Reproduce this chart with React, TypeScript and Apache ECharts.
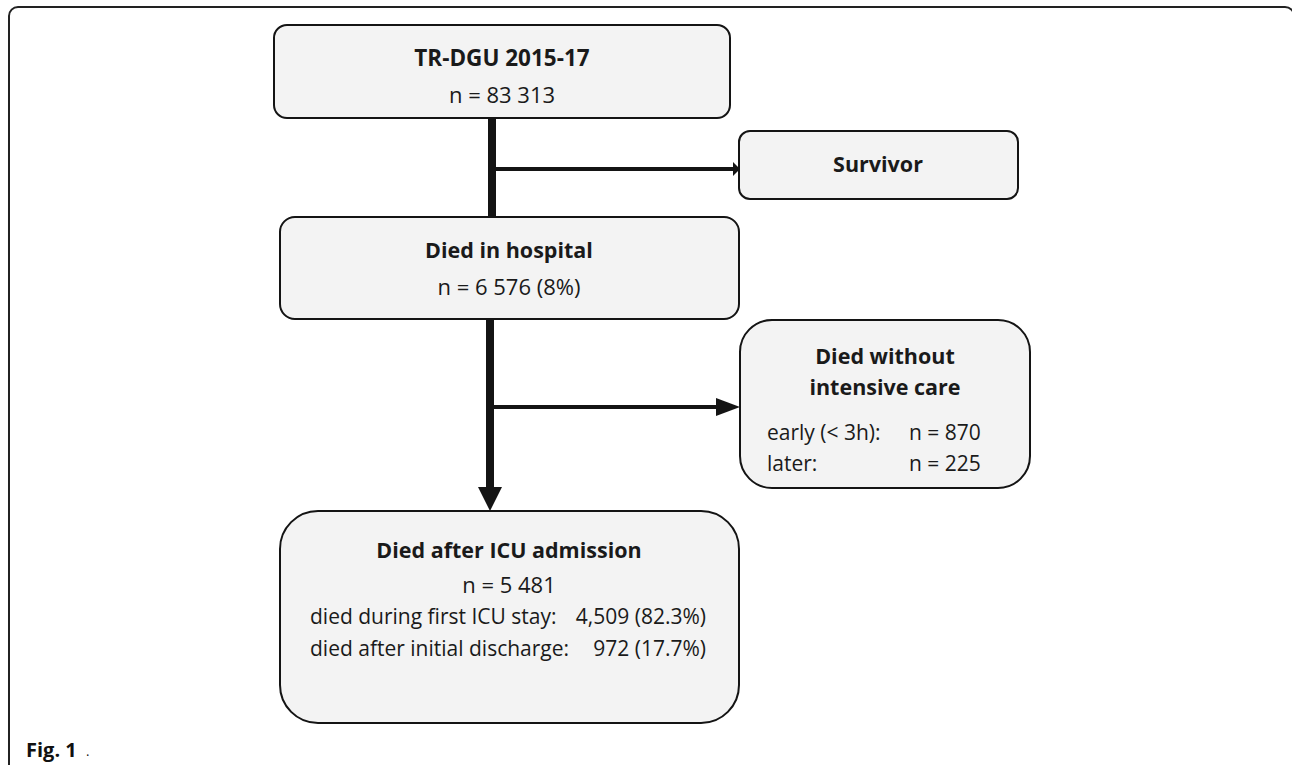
import React, { useEffect, useRef } from "react";
import * as echarts from "echarts";

// ---- content ----
const cohortTitle = "TR-DGU 2015-17";
const cohortCount = "n = 83 313";
const survivorTitle = "Survivor";
const diedTitle = "Died in hospital";
const diedCount = "n = 6 576 (8%)";
const noIcuTitle = ["Died without", "intensive care"];
const noIcuLabels = ["early (< 3h):", "later:"];
const noIcuCounts = ["n = 870", "n = 225"];
const icuTitle = "Died after ICU admission";
const icuCount = "n = 5 481";
const icuLabels = ["died during first ICU stay:", "died after initial discharge:"];
const icuCounts = ["4,509 (82.3%)", "972 (17.7%)"];
const figLabel = "Fig. 1";

const FONT = "'Open Sans', 'Noto Sans', sans-serif";
const INK = "#141414";
const FILL = "#f3f3f3";

function box(x: number, y: number, w: number, h: number, r: number) {
  return {
    type: "rect",
    shape: { x, y, width: w, height: h, r },
    style: { fill: FILL, stroke: INK, lineWidth: 2 },
    z: 10,
  };
}
function txt(text: string, x: number, y: number, opts: any = {}) {
  return {
    type: "text",
    z: 20,
    style: {
      text,
      x,
      y,
      fill: opts.fill || "#1a1a1a",
      font: `${opts.bold ? "bold " : ""}${opts.size || 21}px ${FONT}`,
      textAlign: opts.align || "center",
      textVerticalAlign: "middle",
    },
  };
}
function line(x1: number, y1: number, x2: number, y2: number, w: number) {
  return {
    type: "line",
    z: 5,
    shape: { x1, y1, x2, y2 },
    style: { stroke: INK, lineWidth: w },
  };
}
function poly(points: number[][]) {
  return { type: "polygon", z: 6, shape: { points }, style: { fill: INK } };
}

export default function App() {
  const ref = useRef<HTMLDivElement>(null);
  useEffect(() => {
    if (!ref.current) return;
    const chart = echarts.init(ref.current, null, { renderer: "svg" });
    const T = 21.5; // title size
    const N = 22; // count line size
    const R = 21; // row size
    const elements: any[] = [
      // outer frame
      {
        type: "rect",
        z: 1,
        shape: { x: 9, y: 7, width: 1285, height: 820, r: 9 },
        style: { fill: "#ffffff", stroke: "#222", lineWidth: 2 },
      },
      // main vertical trunk
      line(492, 118, 492, 217, 8),
      line(490, 319, 490, 490, 8),
      poly([[478, 487], [502, 487], [490, 511]]),
      // branch to survivor
      line(492, 169, 734, 169, 4),
      poly([[733, 162], [740, 169], [733, 176]]),
      // branch to died without ICU
      line(490, 407, 718, 407, 4),
      poly([[716, 398], [740, 407], [716, 416]]),
      // boxes
      box(274, 25, 456, 93, 13),
      box(739, 131, 279, 68, 11),
      box(280, 217, 459, 102, 15),
      box(740, 320, 290, 168, 32),
      box(280, 511, 459, 212, 38),
      // texts
      txt(cohortTitle, 502, 57, { bold: true, size: 22.5 }),
      txt(cohortCount, 502, 94, { size: N }),
      txt(survivorTitle, 878, 163, { bold: true, size: T }),
      txt(diedTitle, 509, 249, { bold: true, size: T }),
      txt(diedCount, 509, 286, { size: N }),
      txt(noIcuTitle[0], 885, 355, { bold: true, size: T }),
      txt(noIcuTitle[1], 885, 386, { bold: true, size: T }),
      txt(noIcuLabels[0], 767, 432, { align: "left", size: R }),
      txt(noIcuLabels[1], 767, 463, { align: "left", size: R }),
      txt(noIcuCounts[0], 909, 432, { align: "left", size: R }),
      txt(noIcuCounts[1], 909, 463, { align: "left", size: R }),
      txt(icuTitle, 509, 549, { bold: true, size: T }),
      txt(icuCount, 509, 584, { size: N }),
      txt(icuLabels[0], 310, 616, { align: "left", size: R }),
      txt(icuLabels[1], 310, 648, { align: "left", size: R }),
      txt(icuCounts[0], 706, 616, { align: "right", size: R }),
      txt(icuCounts[1], 706, 648, { align: "right", size: R }),
      txt(figLabel, 26, 749, { bold: true, size: 20, align: "left", fill: "#111" }),
      txt(".", 86, 751, { size: 13, align: "left", fill: "#111" }),
    ];
    chart.setOption({ animation: false, graphic: { elements } });
    return () => chart.dispose();
  }, []);
  return (
    <div
      ref={ref}
      style={{ position: "fixed", left: 0, top: 0, width: 1292, height: 765, background: "#fff" }}
    />
  );
}
